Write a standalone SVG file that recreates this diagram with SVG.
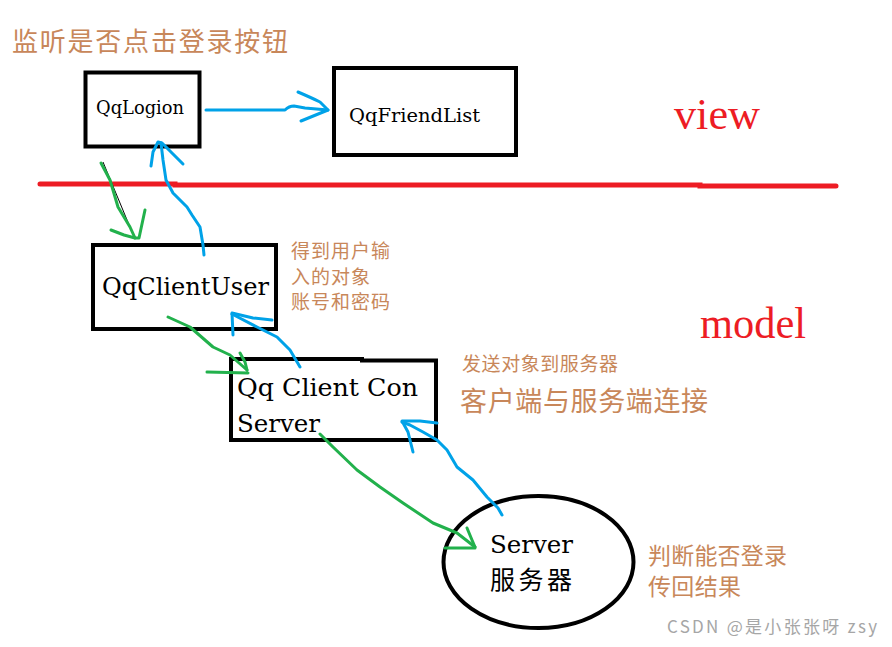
<svg xmlns="http://www.w3.org/2000/svg" width="892" height="647" viewBox="0 0 892 647">
<style>
.box{fill:none;stroke:#000;stroke-width:4}
.lt{font-family:"DejaVu Serif","Liberation Serif","Noto Sans CJK SC",serif;fill:#000}
.cj{font-family:"Noto Sans CJK SC","Liberation Serif",serif;fill:#000}
.note{font-family:"Noto Sans CJK SC",sans-serif;fill:#c8875a}
.red{font-family:"Liberation Serif",serif;fill:#ed1c24}
.b{fill:none;stroke:#00a2e8;stroke-width:3;stroke-linecap:round;stroke-linejoin:round}
.g{fill:none;stroke:#22b14c;stroke-width:3;stroke-linecap:round;stroke-linejoin:round}
</style>
<rect width="892" height="647" fill="#fff"/>
<!-- red divider -->
<path d="M40,184 L175,184 L175,185 L700,185 L700,186 L836,186" fill="none" stroke="#ed1c24" stroke-width="5" stroke-linecap="round"/>
<text class="red" x="674" y="129" font-size="44" textLength="86" lengthAdjust="spacingAndGlyphs">view</text>
<text class="red" x="700" y="338" font-size="44" textLength="106" lengthAdjust="spacingAndGlyphs">model</text>

<g id="QqLogion">
<rect class="box" x="85.5" y="72.5" width="114" height="74"/>
<text class="lt" x="96" y="114" font-size="18" textLength="88" lengthAdjust="spacingAndGlyphs">QqLogion</text>
</g>
<g id="QqFriendList">
<rect class="box" x="334" y="68" width="182" height="87"/>
<text class="lt" x="349" y="122" font-size="18" textLength="131" lengthAdjust="spacingAndGlyphs">QqFriendList</text>
</g>
<g id="QqClientUser">
<rect class="box" x="93" y="245" width="183" height="84"/>
<text class="lt" x="102" y="295" font-size="24" textLength="167" lengthAdjust="spacingAndGlyphs">QqClientUser</text>
</g>
<g id="QqClientConServer">
<path class="box" d="M231,359 L362,359 L362,360.5 L436,360.5 L436,440 L231,440 Z"/>
<text class="lt" x="237" y="396" font-size="24" textLength="181" lengthAdjust="spacingAndGlyphs">Qq Client Con</text>
<text class="lt" x="237" y="432" font-size="24" textLength="83" lengthAdjust="spacingAndGlyphs">Server</text>
</g>
<g id="Server">
<ellipse cx="538.5" cy="562" rx="95" ry="66" fill="none" stroke="#000" stroke-width="4"/>
<text class="lt" x="490" y="553" font-size="24" textLength="83" lengthAdjust="spacingAndGlyphs">Server</text>
<text class="cj" x="490" y="589" font-size="25" textLength="82">服务器</text>
</g>

<g id="notes">
<text class="note" x="12" y="51" font-size="26" textLength="276">监听是否点击登录按钮</text>
<text class="note" x="291" y="258" font-size="19" textLength="99">得到用户输</text>
<text class="note" x="291" y="284" font-size="19" textLength="79">入的对象</text>
<text class="note" x="291" y="309" font-size="19" textLength="99">账号和密码</text>
<text class="note" x="462" y="371" font-size="19" textLength="156">发送对象到服务器</text>
<text class="note" x="460" y="411" font-size="27" textLength="248">客户端与服务端连接</text>
<text class="note" x="648" y="564" font-size="23" textLength="139">判断能否登录</text>
<text class="note" x="648" y="595" font-size="23" textLength="93">传回结果</text>
<text x="667" y="633" font-family="'Noto Sans CJK SC','Liberation Sans',sans-serif" font-size="17" fill="#a6a6a6" textLength="210">CSDN @是小张张呀  zsy</text>
</g>

<g id="connectors">
<!-- QqLogion -> QqFriendList -->
<path class="b" d="M206,110 L285,110 Q289,106 294,106 L305,108 L328,110"/>
<path class="b" d="M298,92 Q312,98 320,102 L328,110 L301,121"/>
<!-- QqClientUser -> QqLogion (blue up) -->
<path class="b" d="M204,255 L203,245 L200,227 L192,215 L187,207 L173,193 L166,180 L163,160 L161,143"/>
<path class="b" d="M151,166 L153,152 L158,142 L162,143 L172,153 L183,164"/>
<!-- QqLogion -> QqClientUser (green down) -->
<line x1="103" y1="162" x2="132" y2="232" stroke="#000" stroke-width="1"/>
<path class="g" d="M101,163 L110,180 L118,207 L130,227 L135,238"/>
<path class="g" d="M111,230 L124,235 L135,238 L139,238 L145,210"/>
<!-- QqClientUser -> QqClientConServer (green) -->
<path class="g" d="M168,317 L190,327 L213,347 L230,355 L247,370"/>
<path class="g" d="M240,353 L245,362 L247,370 M207,372 L248,373"/>
<!-- QqClientConServer -> QqClientUser (blue) -->
<path class="b" d="M300,367 L290,350 L277,337 L257,327 L232,314"/>
<path class="b" d="M272,320 L253,318 L232,313 L233,335"/>
<!-- QqClientConServer -> Server (green) -->
<path class="g" d="M320,434 L333,447 L357,470 L380,487 L403,503 L433,523 L457,533 L475,547"/>
<path class="g" d="M467,528 L472,540 L475,547 M445,548 L475,548"/>
<!-- Server -> QqClientConServer (blue) -->
<path class="b" d="M502,515 L498,508 L487,497 L473,480 L457,467 L447,450 L437,440 L423,432 L410,425 L402,422"/>
<path class="b" d="M437,423 L420,421 L402,421 L408,432 L413,452"/>
</g>
</svg>
